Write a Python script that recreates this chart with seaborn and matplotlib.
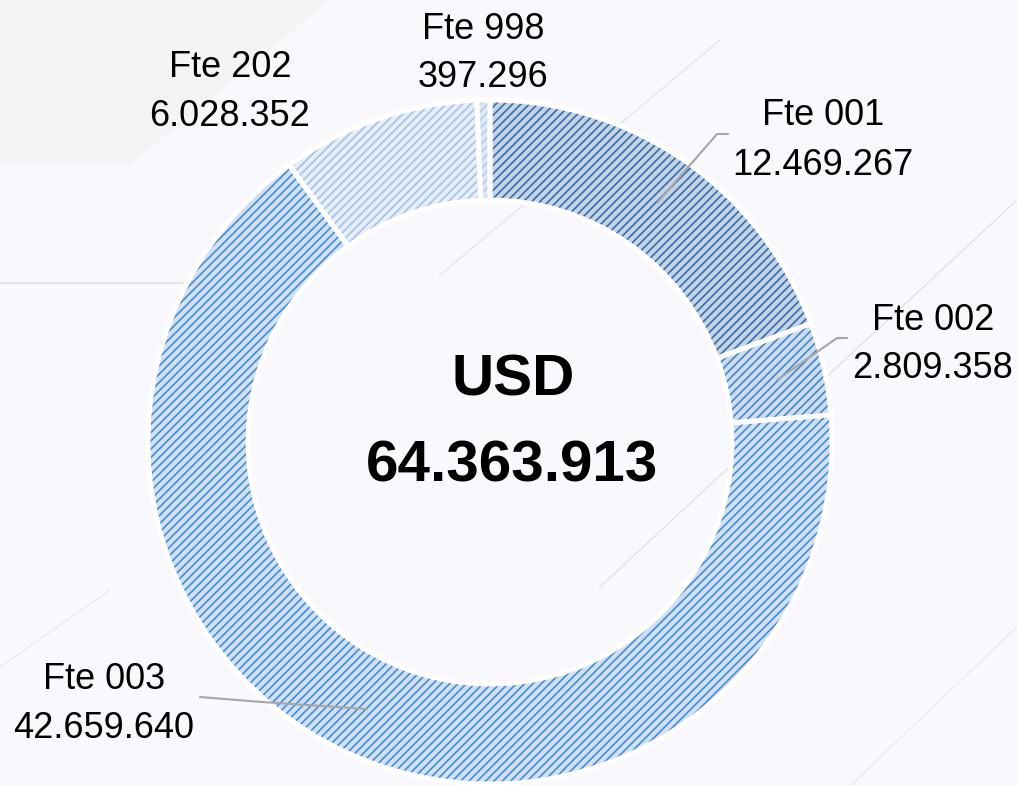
import matplotlib
matplotlib.use('Agg')
import matplotlib.pyplot as plt
from matplotlib.patches import Polygon
import seaborn as sns

# data
fuentes = ['Fte 001', 'Fte 002', 'Fte 003', 'Fte 202', 'Fte 998']
montos = [12469267, 2809358, 42659640, 6028352, 397296]
moneda = 'USD'

# fill / hatch colours per slice
FILLS = ['#c3d4e8', '#cbddf0', '#cfe1f4', '#e6eef8', '#dde8f5']
LINES = ['#3b6ca6', '#4a84c4', '#4a8ad4', '#a6c2e6', '#b4cce8']
BG = '#f9f9fd'
LEADER = '#a6a6a6'

sns.set_theme(style='white')
plt.rcParams['font.family'] = ['Liberation Sans Narrow', 'Liberation Sans', 'DejaVu Sans']
plt.rcParams['hatch.linewidth'] = 1.2

W, H = 1017, 786
CX, CY, R = 490, 442, 342   # donut centre / radius in pixels


def px(x, y):
    # pixel position -> data coordinates of the pie axes
    return (x - CX) / R, (CY - y) / R


def fmt(v):
    return f'{v:,}'.replace(',', '.')


fig = plt.figure(figsize=(W / 100, H / 100), dpi=100)
fig.patch.set_facecolor(BG)
ax = fig.add_axes([0, 0, 1, 1])
ax.set_facecolor(BG)
ax.axis('off')

# faint decorative background
ax.add_patch(Polygon([px(0, 0), px(330, 0), px(130, 165), px(0, 165)],
                     closed=True, facecolor='#f4f4f7', edgecolor='none', zorder=0))
ax.plot(*zip(px(0, 283), px(183, 283)), color='#e4e4e8', lw=1.5, zorder=0)
ax.plot(*zip(px(1017, 200), px(600, 587)), color='#e2e2e6', lw=1, zorder=0)
ax.plot(*zip(px(720, 40), px(440, 275)), color='#e6e6ea', lw=1, zorder=0)
ax.plot(*zip(px(1017, 627), px(850, 786)), color='#ebebef', lw=1, zorder=0)
ax.plot(*zip(px(0, 667), px(110, 590)), color='#ebebef', lw=1, zorder=0)

kw = dict(startangle=90, counterclock=False, radius=1)
ring = 1 - 242 / R

# base fill
ax.pie(montos, colors=FILLS, wedgeprops=dict(width=ring, linewidth=0), **kw)
# hatch layer
hatched, _ = ax.pie(montos, wedgeprops=dict(width=ring, linewidth=0), **kw)
for w, c in zip(hatched, LINES):
    w.set_facecolor('none')
    w.set_edgecolor(c)
    w.set_hatch('////')
    w.set_linewidth(0)
# white separators
ax.pie(montos, wedgeprops=dict(width=ring, linewidth=3.5,
                               edgecolor='white', facecolor='none'), **kw)

# pie() resets the limits, so fix the frame afterwards
ax.set_xlim(-CX / R, (W - CX) / R)
ax.set_ylim(-(H - CY) / R, CY / R)
ax.set_aspect('equal')

# labels: centre x and the two baselines
label_pos = {
    'Fte 001': (823, 125, 175),
    'Fte 002': (933, 330, 378),
    'Fte 003': (104, 689, 738),
    'Fte 202': (230, 77, 126),
    'Fte 998': (483, 39, 87),
}
for name, val in zip(fuentes, montos):
    x, b1, b2 = label_pos[name]
    ax.text(*px(x, b1), name, ha='center', va='baseline', fontsize=26, color='black')
    ax.text(*px(x, b2), fmt(val), ha='center', va='baseline', fontsize=26, color='black')

# leader lines
leaders = {
    'Fte 001': [(728, 134), (717, 134), (657, 203)],
    'Fte 002': [(847, 338), (837, 338), (777, 380)],
    'Fte 003': [(200, 697), (262, 702), (367, 709)],
}
for pts in leaders.values():
    xs, ys = zip(*[px(a, b) for a, b in pts])
    ax.plot(xs, ys, color=LEADER, lw=1.5, zorder=5)

# centre total
ax.text(*px(513, 395), moneda, ha='center', va='baseline',
        fontsize=42, fontweight='bold', color='black')
ax.text(*px(512, 482), fmt(sum(montos)), ha='center', va='baseline',
        fontsize=42, fontweight='bold', color='black')

fig.savefig('out.png', dpi=100, facecolor=fig.get_facecolor())
